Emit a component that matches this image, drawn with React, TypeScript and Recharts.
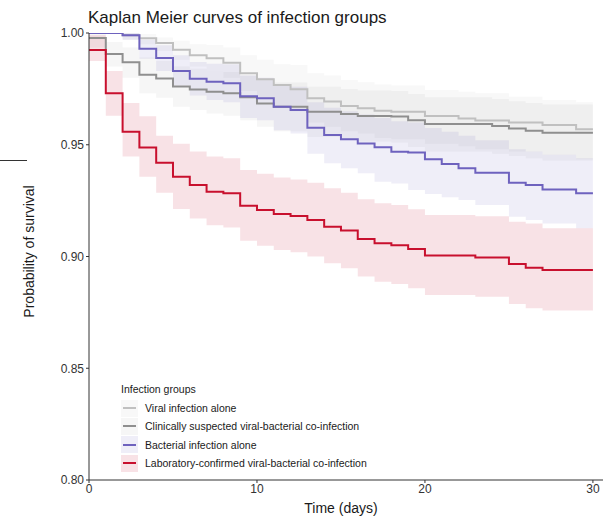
import React from 'react';
import { ComposedChart, Area, Line, XAxis, YAxis } from 'recharts';

// days since admission (value at index i holds from day i to day i+1)
const days = [0, 1, 2, 3, 4, 5, 6, 7, 8, 9, 10, 11, 12, 13, 14, 15, 16, 17, 18, 19, 20, 21, 22, 23, 24, 25, 26, 27, 28, 29, 30];

const viralSurv = [1.0, 1.0, 0.999, 0.9976, 0.9955, 0.9925, 0.99, 0.9887, 0.9867, 0.982, 0.9793, 0.9767, 0.9748, 0.9708, 0.9693, 0.9673, 0.9663, 0.9652, 0.9648, 0.9648, 0.9629, 0.9629, 0.9618, 0.9608, 0.9608, 0.96, 0.96, 0.9588, 0.9588, 0.9569, 0.9569];
const viralUpper = [1.0, 1.0, 1.0, 0.9995, 0.998, 0.9965, 0.995, 0.9946, 0.9935, 0.99, 0.988, 0.986, 0.9857, 0.982, 0.981, 0.979, 0.978, 0.977, 0.9765, 0.9765, 0.9745, 0.9745, 0.9737, 0.973, 0.973, 0.9715, 0.9715, 0.97, 0.97, 0.969, 0.969];
const viralLower = [1.0, 1.0, 0.997, 0.995, 0.992, 0.988, 0.985, 0.983, 0.98, 0.974, 0.971, 0.967, 0.965, 0.96, 0.958, 0.956, 0.955, 0.953, 0.9525, 0.9525, 0.9505, 0.9505, 0.9493, 0.948, 0.948, 0.947, 0.947, 0.9455, 0.9455, 0.9435, 0.9435];

const clinicalSurv = [0.9978, 0.9906, 0.9869, 0.9813, 0.9796, 0.9761, 0.9747, 0.9737, 0.973, 0.9712, 0.9685, 0.967, 0.967, 0.9648, 0.9648, 0.9638, 0.9629, 0.9629, 0.9626, 0.961, 0.9593, 0.9593, 0.9593, 0.9593, 0.9584, 0.9573, 0.9563, 0.9554, 0.9554, 0.9554, 0.9554];
const clinicalUpper = [1.0, 0.996, 0.9935, 0.989, 0.9875, 0.985, 0.984, 0.983, 0.9825, 0.981, 0.979, 0.9778, 0.9778, 0.976, 0.976, 0.975, 0.9743, 0.9743, 0.974, 0.9727, 0.9712, 0.9712, 0.9712, 0.9712, 0.9705, 0.9695, 0.9687, 0.968, 0.968, 0.968, 0.968];
const clinicalLower = [0.9935, 0.985, 0.98, 0.973, 0.971, 0.967, 0.9655, 0.964, 0.963, 0.961, 0.958, 0.956, 0.956, 0.9535, 0.9535, 0.9525, 0.9515, 0.9515, 0.951, 0.949, 0.947, 0.947, 0.947, 0.947, 0.946, 0.945, 0.944, 0.943, 0.943, 0.943, 0.943];

const bacterialSurv = [1.0, 1.0, 0.999, 0.993, 0.9888, 0.983, 0.9795, 0.9782, 0.9775, 0.9717, 0.9708, 0.967, 0.9655, 0.9576, 0.9544, 0.9525, 0.9506, 0.9489, 0.9469, 0.9465, 0.9435, 0.9414, 0.9395, 0.9375, 0.9375, 0.933, 0.932, 0.93, 0.93, 0.9283, 0.9283];
const bacterialUpper = [1.0, 1.0, 1.0, 0.997, 0.9945, 0.99, 0.987, 0.9862, 0.986, 0.981, 0.98, 0.977, 0.976, 0.969, 0.9665, 0.965, 0.9635, 0.962, 0.9605, 0.96, 0.9575, 0.9558, 0.954, 0.952, 0.952, 0.948, 0.947, 0.9455, 0.9455, 0.944, 0.944];
const bacterialLower = [1.0, 1.0, 0.997, 0.9885, 0.983, 0.9765, 0.972, 0.97, 0.969, 0.962, 0.961, 0.9565, 0.955, 0.946, 0.9417, 0.9395, 0.9372, 0.9335, 0.9327, 0.9298, 0.928, 0.9265, 0.9253, 0.923, 0.923, 0.9178, 0.9163, 0.9148, 0.9148, 0.9126, 0.9126];

const labSurv = [0.9924, 0.973, 0.9558, 0.9488, 0.942, 0.9357, 0.932, 0.929, 0.9283, 0.9227, 0.9208, 0.919, 0.9181, 0.9163, 0.9133, 0.9116, 0.9078, 0.9059, 0.905, 0.9034, 0.9004, 0.9004, 0.9004, 0.8996, 0.8996, 0.8966, 0.895, 0.894, 0.894, 0.894, 0.894];
const labUpper = [0.999, 0.983, 0.9687, 0.9627, 0.954, 0.9505, 0.947, 0.9447, 0.944, 0.9387, 0.937, 0.9354, 0.9345, 0.933, 0.9305, 0.9285, 0.9256, 0.9238, 0.923, 0.9211, 0.9186, 0.9186, 0.9186, 0.918, 0.918, 0.9156, 0.9148, 0.9126, 0.9126, 0.9126, 0.9126];
const labLower = [0.9875, 0.963, 0.9447, 0.9357, 0.9285, 0.9213, 0.917, 0.914, 0.913, 0.907, 0.9048, 0.9029, 0.9019, 0.9, 0.897, 0.8947, 0.891, 0.8887, 0.8877, 0.8858, 0.8828, 0.8828, 0.8828, 0.882, 0.882, 0.8787, 0.8768, 0.8758, 0.8758, 0.8758, 0.8758];

const yTicks = [0.8, 0.85, 0.9, 0.95, 1.0];
const xTicks = [0, 10, 20, 30];

const groups = [
  { key: 'viral', name: 'Viral infection alone', color: '#c0c0c0', band: '#bdbdbd', bandOpacity: 0.11, surv: viralSurv, upper: viralUpper, lower: viralLower },
  { key: 'clinical', name: 'Clinically suspected viral-bacterial co-infection', color: '#8f8f8f', band: '#8f8f8f', bandOpacity: 0.08, surv: clinicalSurv, upper: clinicalUpper, lower: clinicalLower },
  { key: 'bacterial', name: 'Bacterial infection alone', color: '#6e62be', band: '#6e62be', bandOpacity: 0.11, surv: bacterialSurv, upper: bacterialUpper, lower: bacterialLower },
  { key: 'lab', name: 'Laboratory-confirmed viral-bacterial co-infection', color: '#c8102e', band: '#c8102e', bandOpacity: 0.12, surv: labSurv, upper: labUpper, lower: labLower },
];

const data = days.map((t, i) => {
  const row: any = { time: t };
  groups.forEach(g => {
    row[g.key] = g.surv[i];
    row[g.key + 'CI'] = [g.lower[i], g.upper[i]];
  });
  return row;
});

const FONT = '"Liberation Sans", Arial, Helvetica, sans-serif';

const App = () => {
  return (
    <div style={{ position: 'absolute', left: 0, top: 0, width: 603, height: 517, fontFamily: FONT, background: '#fff' }}>
      <div style={{ position: 'absolute', left: 88, top: 9, fontSize: 17, lineHeight: '17px', color: '#1a1a1a', whiteSpace: 'nowrap' }}>
        Kaplan Meier curves of infection groups
      </div>
      {/* stray tick mark at the left edge */}
      <div style={{ position: 'absolute', left: 0, top: 160, width: 27, height: 1, background: '#333' }} />
      <ComposedChart
        width={603}
        height={517}
        data={data}
        margin={{ top: 33, right: 0, bottom: 0, left: 0 }}
        style={{ fontFamily: FONT }}
      >
        <XAxis
          dataKey="time"
          type="number"
          domain={[0, 30.6]}
          ticks={xTicks}
          allowDataOverflow
          height={37}
          tickSize={3}
          tickMargin={1}
          stroke="#333"
          tick={{ fill: '#333', fontSize: 12 }}
          label={{
            content: ({ viewBox }: any) => (
              <text x={341} y={viewBox.y + viewBox.height - 4} textAnchor="middle" fontSize={14} fill="#1a1a1a">
                Time (days)
              </text>
            ),
          }}
        />
        <YAxis
          type="number"
          domain={[0.8, 1.0]}
          ticks={yTicks}
          allowDataOverflow
          width={89}
          tickSize={3}
          tickMargin={2}
          stroke="#333"
          tick={{ fill: '#333', fontSize: 12 }}
          tickFormatter={(v: number) => v.toFixed(2)}
          label={{
            content: ({ viewBox }: any) => {
              const cy = viewBox.y + viewBox.height / 2 - 5;
              return (
                <text x={34} y={cy} transform={`rotate(-90 34 ${cy})`} textAnchor="middle" fontSize={14} fill="#1a1a1a">
                  Probability of survival
                </text>
              );
            },
          }}
        />
        {groups.map(g => (
          <Area
            key={g.key + 'CI'}
            dataKey={g.key + 'CI'}
            type="stepAfter"
            stroke="none"
            fill={g.band}
            fillOpacity={g.bandOpacity}
            isAnimationActive={false}
            activeDot={false}
            dot={false}
          />
        ))}
        {groups.map(g => (
          <Line
            key={g.key}
            dataKey={g.key}
            type="stepAfter"
            stroke={g.color}
            strokeWidth={2}
            dot={false}
            activeDot={false}
            isAnimationActive={false}
          />
        ))}
      </ComposedChart>
      <div style={{ position: 'absolute', left: 121, top: 381, fontSize: 10.5, color: '#1a1a1a' }}>
        <div style={{ height: 16, lineHeight: '16px', marginBottom: 2 }}>Infection groups</div>
        {groups.map(g => (
          <div key={g.key} style={{ display: 'flex', alignItems: 'center', height: 18.3 }}>
            <div style={{ position: 'relative', width: 17, height: 17, marginRight: 7 }}>
              <div style={{ position: 'absolute', inset: 0, background: g.band, opacity: g.bandOpacity }} />
              <div style={{ position: 'absolute', left: 2, right: 2, top: 7.5, height: 2, background: g.color }} />
            </div>
            <span style={{ whiteSpace: 'nowrap' }}>{g.name}</span>
          </div>
        ))}
      </div>
    </div>
  );
};

export default App;
